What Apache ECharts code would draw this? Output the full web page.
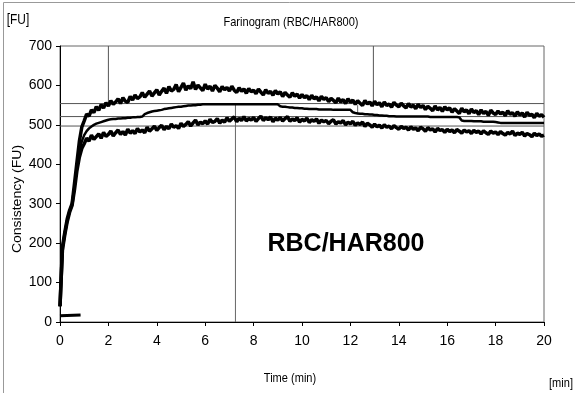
<!DOCTYPE html>
<html>
<head>
<meta charset="utf-8">
<script src="https://cdn.jsdelivr.net/npm/echarts@6/dist/echarts.min.js"></script>
<style>
  html, body { margin: 0; padding: 0; background: #fff; }
  #farino { width: 575px; height: 393px; }
</style>
</head>
<body>
<div id="farino"></div>
<script>
// time axis: samples every 0.1 min, 0 .. 20
const timeStep = 0.1;
const xTicks = [0, 2, 4, 6, 8, 10, 12, 14, 16, 18, 20];
const yTicks = [0, 100, 200, 300, 400, 500, 600, 700];

// upper (noisy) consistency curve, FU
const upperFU = [
  40, 190, 228, 262, 284, 300, 352, 405, 458, 494,
  510, 527, 522, 538, 531, 546, 537, 551, 543, 556,
  548, 561, 552, 558, 566, 554, 569, 560, 557, 572,
  563, 576, 567, 571, 582, 570, 578, 586, 573, 581,
  589, 576, 585, 593, 580, 597, 586, 590, 602, 584,
  595, 606, 588, 599, 592, 609, 590, 601, 594, 587,
  603, 591, 598, 586, 600, 593, 584, 597, 589, 595,
  586, 598, 588, 582, 594, 585, 591, 580, 592, 584,
  588, 579, 591, 583, 576, 589, 580, 585, 575, 587,
  578, 584, 572, 582, 576, 570, 581, 573, 578, 568,
  577, 569, 574, 564, 575, 566, 571, 561, 572, 565,
  569, 559, 567, 562, 556, 568, 558, 564, 554, 566,
  557, 563, 552, 561, 555, 549, 562, 553, 558, 548,
  560, 551, 556, 546, 558, 549, 553, 545, 557, 550,
  546, 555, 548, 543, 554, 545, 550, 541, 552, 544,
  549, 539, 547, 542, 536, 548, 538, 544, 534, 546,
  538, 543, 532, 541, 535, 529, 542, 533, 538, 528,
  540, 531, 536, 526, 538, 529, 534, 524, 537, 530,
  526, 535, 528, 532, 523, 536, 527, 531, 522, 533,
  525, 530, 520, 532, 524, 527, 518, 529, 522, 526,
  519
];

// middle (smoothed) curve, FU
const middleFU = [
  40, 186, 225, 258, 281, 298, 342, 392, 432, 458,
  474, 484, 491, 496, 500, 503, 505, 507, 509, 511,
  513, 514, 515, 515, 516, 516, 517, 517, 518, 518,
  519, 519, 520, 520, 521, 527, 530, 532, 534, 535,
  536, 537, 538, 540, 541, 542, 543, 544, 545, 546,
  546, 547, 548, 549, 549, 550, 550, 551, 551, 552,
  552, 552, 552, 552, 552, 552, 552, 552, 552, 552,
  552, 552, 552, 552, 552, 552, 552, 552, 552, 552,
  552, 552, 552, 552, 552, 552, 552, 552, 552, 552,
  552, 547, 546, 546, 545, 544, 544, 543, 543, 542,
  542, 541, 541, 540, 540, 540, 540, 539, 539, 539,
  539, 539, 539, 538, 538, 538, 538, 538, 538, 538,
  538, 532, 530, 529, 528, 528, 527, 527, 526, 526,
  525, 525, 524, 524, 523, 523, 522, 522, 522, 521,
  521, 521, 521, 521, 521, 521, 521, 521, 521, 521,
  521, 521, 521, 520, 520, 520, 520, 520, 520, 520,
  520, 520, 520, 520, 520, 519, 511, 510, 510, 510,
  510, 509, 509, 509, 509, 508, 508, 508, 508, 508,
  507, 506, 505, 505, 505, 505, 505, 505, 505, 505,
  505, 505, 505, 505, 505, 505, 505, 505, 505, 505,
  505
];

// lower (noisy) curve, FU
const lowerFU = [
  40, 182, 222, 255, 279, 296, 336, 384, 418, 440,
  452, 466, 459, 474, 463, 470, 477, 466, 481, 471,
  476, 484, 472, 480, 487, 476, 483, 474, 489, 479,
  485, 478, 491, 482, 487, 480, 494, 484, 490, 497,
  486, 493, 499, 488, 496, 490, 502, 494, 498, 491,
  504, 496, 501, 508, 497, 505, 512, 500, 507, 503,
  510, 502, 514, 506, 509, 516, 504, 512, 507, 518,
  509, 515, 520, 508, 517, 511, 521, 510, 516, 512,
  519, 509, 516, 522, 511, 518, 513, 520, 508, 517,
  512, 519, 510, 516, 521, 509, 515, 511, 518, 507,
  514, 510, 517, 506, 513, 509, 515, 504, 512, 508,
  511, 503, 509, 513, 502, 508, 505, 511, 500, 507,
  503, 509, 499, 505, 501, 507, 496, 504, 500, 494,
  502, 495, 499, 492, 500, 494, 497, 490, 498, 493,
  489, 496, 491, 494, 487, 495, 489, 492, 485, 494,
  490, 484, 493, 487, 490, 482, 491, 486, 488, 481,
  489, 483, 487, 480, 488, 484, 479, 487, 482, 485,
  478, 486, 481, 484, 477, 485, 480, 476, 484, 479,
  482, 475, 483, 478, 474, 481, 477, 484, 473, 479,
  476, 481, 472, 478, 475, 470, 479, 473, 477, 471,
  474
];

// evaluation lines
const levelFU = [554, 521, 497];          // horizontal lines
const topMarkTimes = [2, 12.95];          // verticals from top down
const topMarkFrom = [555, 558];
const devMarkTime = 7.25;                 // vertical from bottom
const devMarkTo = 552;
const smallMarkTime = 12.3;
const smallMarkFU = [530, 550];
const baseTimes = [0, 0.85];              // short start trace
const baseFU = [16, 18];

const toPairs = (arr) => arr.map((v, i) => [+(i * timeStep).toFixed(1), v]);

const font = 'Arial, "Liberation Sans", sans-serif';
const refStyle = { color: '#555', width: 1 };

const refSeries = [];
levelFU.forEach((lv) => {
  refSeries.push({ type: 'line', data: [[0, lv], [20, lv]], lineStyle: refStyle });
});
topMarkTimes.forEach((t, i) => {
  refSeries.push({ type: 'line', data: [[t, 700], [t, topMarkFrom[i]]], lineStyle: refStyle });
});
refSeries.push({ type: 'line', data: [[devMarkTime, 0], [devMarkTime, devMarkTo]], lineStyle: { color: '#666', width: 1 } });
refSeries.push({ type: 'line', data: [[smallMarkTime, smallMarkFU[0]], [smallMarkTime, smallMarkFU[1]]], lineStyle: { color: '#666', width: 1 } });

const curveSeries = [
  { type: 'line', data: toPairs(upperFU), lineStyle: { color: '#000', width: 3.5, join: 'bevel' } },
  { type: 'line', data: toPairs(middleFU), lineStyle: { color: '#000', width: 2.5 } },
  { type: 'line', data: toPairs(lowerFU), lineStyle: { color: '#000', width: 3.5, join: 'bevel' } },
  { type: 'line', data: baseTimes.map((t, i) => [t, baseFU[i]]), lineStyle: { color: '#000', width: 3 } },
];

const chart = echarts.init(document.getElementById('farino'));

const label = (text, x, y, size, extra) => Object.assign({
  type: 'text', x: x, y: y, scaleX: 0.85,
  style: { text: text, font: size + 'px ' + font, fill: '#000', align: 'center', verticalAlign: 'middle' }
}, extra || {});

chart.setOption({
  animation: false,
  backgroundColor: '#fff',
  grid: {
    left: 60, top: 46, width: 484, height: 276,
    show: true, borderColor: '#666', borderWidth: 1
  },
  xAxis: {
    type: 'value', min: 0, max: 20, interval: 2,
    axisLine: { lineStyle: { color: '#000', width: 1 } },
    axisTick: { length: 4, lineStyle: { color: '#000' } },
    axisLabel: {
      margin: 12, color: '#000', fontSize: 14, fontFamily: font,
      formatter: (v) => (xTicks.includes(v) ? String(v) : '')
    },
    splitLine: { show: false }
  },
  yAxis: {
    type: 'value', min: 0, max: 700, interval: 100,
    axisLine: { show: true, lineStyle: { color: '#000', width: 1 } },
    axisTick: { show: true, length: 4, lineStyle: { color: '#000' } },
    axisLabel: {
      margin: 8, color: '#000', fontSize: 14, fontFamily: font,
      formatter: (v) => (yTicks.includes(v) ? String(v) : '')
    },
    splitLine: { show: false }
  },
  series: refSeries.concat(curveSeries).map((s) => Object.assign({
    showSymbol: false, symbol: 'none', silent: true, clip: true
  }, s)),
  graphic: [
    { type: 'rect', shape: { x: 3.5, y: 2.5, width: 580, height: 400 },
      style: { fill: 'none', stroke: '#999', lineWidth: 1 }, silent: true },
    label('[FU]', 18, 20, 14),
    label('Farinogram (RBC/HAR800)', 291, 22, 13),
    label('Consistency (FU)', 18, 199, 14, { rotation: Math.PI / 2, scaleX: 1, scaleY: 0.85 }),
    label('Time (min)', 290, 378, 13),
    label('[min]', 561, 383, 13),
    { type: 'text', x: 346, y: 244,
      style: { text: 'RBC/HAR800', font: 'bold 25px Arial, "Liberation Sans", sans-serif', fill: '#000', align: 'center', verticalAlign: 'middle' } }
  ]
});
</script>
</body>
</html>
